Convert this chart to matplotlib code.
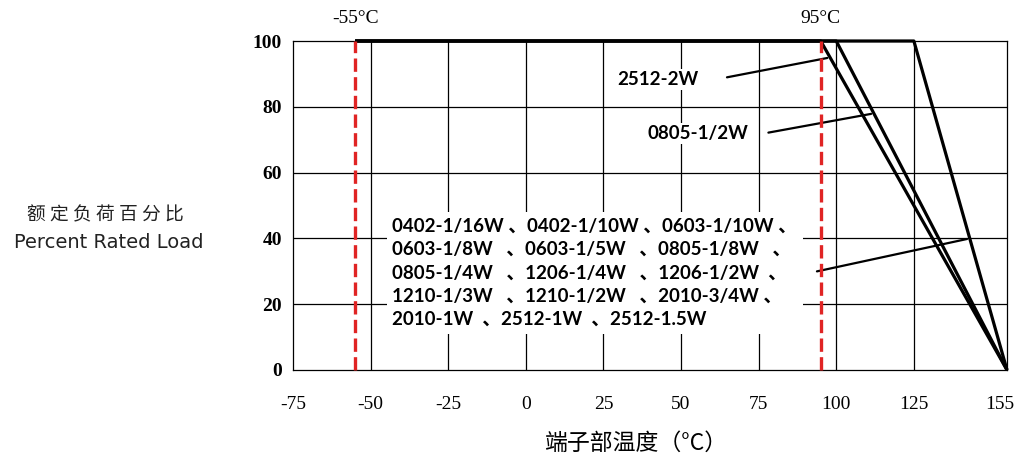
import matplotlib
matplotlib.use("Agg")
import matplotlib.pyplot as plt
from matplotlib.transforms import blended_transform_factory, ScaledTranslation

# ---- data ----
x_ticks = [-75, -50, -25, 0, 25, 50, 75, 100, 125, 155]
x_tick_labels = ["-75", "-50", "-25", "0", "25", "50", "75", "100", "125", "155"]
y_ticks = [0, 20, 40, 60, 80, 100]
min_temp = -55          # lower operating limit
max_temp = 155          # zero-load temperature
knee_temps = [95, 100, 125]   # start of derating for the three curves
limit_lines = [-55, 95]
limit_labels = ["-55°C", "95°C"]
list_lines = [
    "0402-1/16W 、0402-1/10W 、0603-1/10W 、",
    "0603-1/8W   、0603-1/5W   、0805-1/8W   、",
    "0805-1/4W   、1206-1/4W   、1206-1/2W  、",
    "1210-1/3W   、1210-1/2W   、2010-3/4W 、",
    "2010-1W  、2512-1W  、2512-1.5W",
]

fig = plt.figure(figsize=(10.19, 4.59), dpi=100)
ax = fig.add_axes([293/1019, 1-370/459, (1007-293)/1019, (370-41)/459])
ax.set_xlim(-75, 155)
ax.set_ylim(0, 100)

# grid
for xv in x_ticks[1:-1]:
    ax.axvline(xv, color="black", lw=0.9, zorder=1)
for yv in y_ticks[1:-1]:
    ax.axhline(yv, color="black", lw=0.9, zorder=1)
for s in ax.spines.values():
    s.set_linewidth(0.9)

# derating curves
for k in knee_temps:
    ax.plot([min_temp, k, max_temp], [100, 100, 0], color="black", lw=2.3,
            solid_capstyle="butt", zorder=4, clip_on=False)

# red limit lines
for xv in limit_lines:
    ax.plot([xv, xv], [0, 100], color="#e02424", lw=2.4, ls=(0, (4, 1.6)),
            zorder=6, clip_on=False)

trans = blended_transform_factory(ax.transData, ax.transAxes)
for xv, lab in zip(limit_lines, limit_labels):
    ax.text(xv, 1.067, lab, transform=trans, ha="center", va="center",
            fontsize=14, family="Liberation Serif")

ax.set_xticks(x_ticks)
ax.set_xticklabels(x_tick_labels, family="Liberation Serif", fontsize=14)
ax.set_yticks(y_ticks)
ax.set_yticklabels([str(v) for v in y_ticks], family="Liberation Serif",
                   fontsize=14, fontweight="bold")
ax.tick_params(axis="both", length=0)
ax.tick_params(axis="x", pad=19)
ax.tick_params(axis="y", pad=8)
# keep the last tick label inside the figure
last = ax.get_xticklabels()[-1]
last.set_transform(last.get_transform() + ScaledTranslation(-7/100, 0, fig.dpi_scale_trans))

def on_line(k, load):
    return k + (100 - load) / 100 * (max_temp - k), load

font = ["Lato", "Noto Sans CJK SC"]
box = dict(facecolor="white", edgecolor="none", pad=1.5)

# 2512-2W
tx, ty = on_line(knee_temps[0], 95)
ax.text(0.454, 0.884, "2512-2W", transform=ax.transAxes, ha="left", va="center",
        fontsize=13.5, fontweight="bold", family=font, bbox=box, zorder=5)
ax.annotate("", xy=(tx, ty), xycoords="data", xytext=(0.604, 0.888),
            textcoords="axes fraction",
            arrowprops=dict(arrowstyle="-", color="black", lw=1.6), zorder=5)

# 0805-1/2W
tx, ty = on_line(knee_temps[1], 78)
ax.text(0.497, 0.720, "0805-1/2W", transform=ax.transAxes, ha="left", va="center",
        fontsize=13.5, fontweight="bold", family=font, bbox=box, zorder=5)
ax.annotate("", xy=(tx, ty), xycoords="data", xytext=(0.662, 0.720),
            textcoords="axes fraction",
            arrowprops=dict(arrowstyle="-", color="black", lw=1.6), zorder=5)

# list
ax.text(0.139, 0.295, "\n".join(list_lines), transform=ax.transAxes, ha="left",
        va="center", fontsize=13.5, fontweight="bold", family=font,
        linespacing=1.45, bbox=dict(facecolor="white", edgecolor="none", pad=4),
        zorder=5)
tx, ty = on_line(knee_temps[2], 40)
ax.annotate("", xy=(tx, ty), xycoords="data", xytext=(0.730, 0.298),
            textcoords="axes fraction",
            arrowprops=dict(arrowstyle="-", color="black", lw=1.6), zorder=5)

# axis labels
fig.text(637/1019, 1-443/459, "端子部温度（°C）", ha="center", va="center",
         fontsize=16.5, family=["Noto Sans CJK SC", "DejaVu Sans"])
fig.text(105/1019, 1-215/459, " ".join("额定负荷百分比"), ha="center", va="center",
         fontsize=13.5, family=["Noto Sans CJK SC", "DejaVu Sans"], color="#222222")
fig.text(109/1019, 1-242/459, "Percent Rated Load", ha="center", va="center",
         fontsize=14, family="DejaVu Sans", color="#222222")

fig.savefig("out.png", dpi=100)
